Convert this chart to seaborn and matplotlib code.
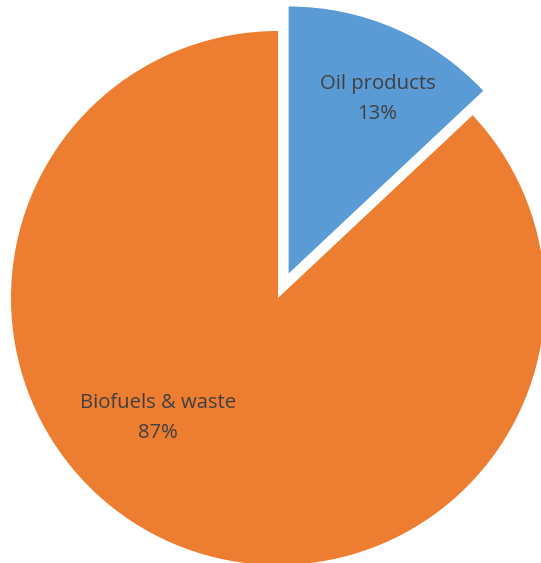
import numpy as np
import matplotlib
matplotlib.use("Agg")
import matplotlib.pyplot as plt
import seaborn as sns

categories = ["Oil products", "Biofuels & waste"]
shares = [13, 87]
colors = ["#5B9BD5", "#ED7D31"]

sns.set_theme(style="white")
plt.rcParams['font.family'] = ['Open Sans', 'DejaVu Sans']

W, H = 541, 563
fig = plt.figure(figsize=(W / 100, H / 100), dpi=100)
ax = fig.add_axes([0, 0, 1, 1])

cx, cy, R = 278, 298, 267

explode = [0.1, 0.0]
wedges, _ = ax.pie(shares, colors=colors, startangle=90, counterclock=False,
                   explode=explode, radius=1.0, center=(0, 0),
                   wedgeprops=dict(linewidth=0), frame=True)
ax.set_xlim((0 - cx) / R, (W - cx) / R)
ax.set_ylim((cy - H) / R, (cy - 0) / R)
ax.set_aspect("auto")
ax.axis("off")

# label placement (angle in degrees, distance in radius units), relative to wedge apex
label_pos = [(63.0, 0.735), (225, 0.635)]
for w, name, val, ex, (ang, dist) in zip(wedges, categories, shares, explode, label_pos):
    mid = np.deg2rad((w.theta1 + w.theta2) / 2)
    ox, oy = ex * np.cos(mid), ex * np.sin(mid)
    a = np.deg2rad(ang)
    ax.text(ox + dist * np.cos(a), oy + dist * np.sin(a), f"{name}\n{val}%",
            ha="center", va="center", fontsize=14.6, color="#404040",
            linespacing=1.65)

fig.savefig("out.png", dpi=100)
